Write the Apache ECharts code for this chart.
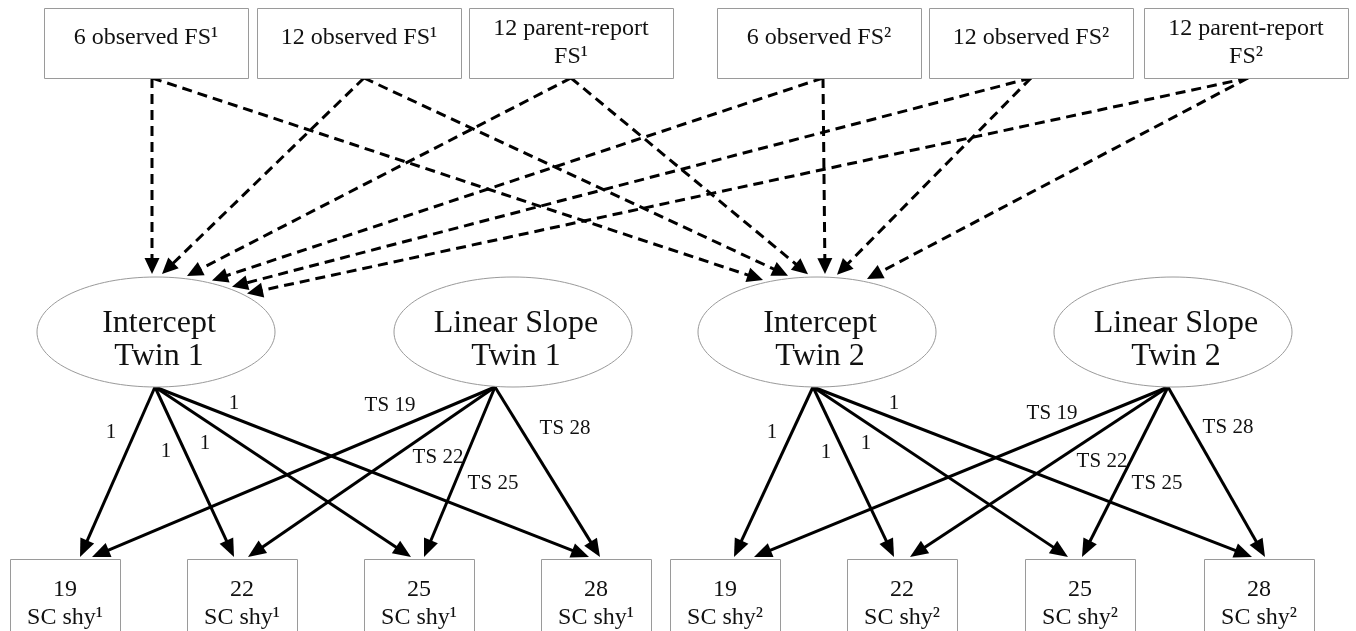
<!DOCTYPE html>
<html><head><meta charset="utf-8">
<script src="https://cdn.jsdelivr.net/npm/echarts@6/dist/echarts.min.js"></script>
<style>html,body{margin:0;padding:0;background:#fff}#c{width:1356px;height:631px}</style>
</head><body><div id="c"></div>
<script>
const FONT = '"Liberation Serif","Times New Roman",serif';

// ---- top row: observed predictors ----
const topLabels = ['6 observed FS¹', '12 observed FS¹', '12 parent-report\nFS¹',
                   '6 observed FS²', '12 observed FS²', '12 parent-report\nFS²'];
const topLeft = [44, 257, 469, 717, 929, 1144];
const topPort = [152, 364, 571, 823, 1031, 1248];

// ---- middle row: latent growth factors ----
const latentLabels = ['Intercept\nTwin 1', 'Linear Slope\nTwin 1', 'Intercept\nTwin 2', 'Linear Slope\nTwin 2'];
const latentCx = [156, 513, 817, 1173];
const latentPort = [155, 495, 813, 1168];

// ---- bottom row: self-concept shyness outcomes ----
const bottomLabels = ['19\nSC shy¹', '22\nSC shy¹', '25\nSC shy¹', '28\nSC shy¹',
                      '19\nSC shy²', '22\nSC shy²', '25\nSC shy²', '28\nSC shy²'];
const bottomLeft = [10, 187, 364, 541, 670, 847, 1025, 1204];

// dashed predictor paths: [top box, latent, landing offset from ellipse centre]
const predictorPaths = [
  [0, 0, -4], [1, 0, 6], [2, 0, 31], [3, 0, 56], [4, 0, 76], [5, 0, 91],
  [0, 2, -54], [1, 2, -29], [2, 2, -9], [3, 2, 8], [4, 2, 20], [5, 2, 50]
];

// solid loadings: [latent, bottom box, landing offset from box centre]
const loadings = [
  [0, 0, 15], [0, 1, -8], [0, 2, -8], [0, 3, -7],
  [1, 0, 27], [1, 1, 6], [1, 2, 5], [1, 3, 4],
  [2, 4, 9], [2, 5, -8], [2, 6, -12], [2, 7, -7],
  [3, 4, 29], [3, 5, 8], [3, 6, 2], [3, 7, 6]
];

// loading labels and where they sit
const loadingText = ['1', '1', '1', '1', 'TS 19', 'TS 22', 'TS 25', 'TS 28',
                     '1', '1', '1', '1', 'TS 19', 'TS 22', 'TS 25', 'TS 28'];
const loadingTextPos = [[111, 432], [166, 451], [205, 443], [234, 403],
                        [390, 405], [438, 457], [493, 483], [565, 428],
                        [772, 432], [826, 452], [866, 443], [894, 403],
                        [1052, 413], [1102, 461], [1157, 483], [1228, 427]];

// layout constants
const TOP_Y = 8, TOP_H = 70, TOP_W = 204;
const LAT_CY = 332, LAT_RX = 119, LAT_RY = 55;
const BOT_Y = 559, BOT_H = 80, BOT_W = 110;

function ellipseTopY(cx, x) {
  const t = Math.min(1, Math.abs(x - cx) / LAT_RX);
  return LAT_CY - LAT_RY * Math.sqrt(1 - t * t) - 3;
}

const dashedData = predictorPaths.map(([f, t, off]) => {
  const ex = latentCx[t] + off;
  return [topPort[f], TOP_Y + TOP_H, ex, ellipseTopY(latentCx[t], ex)];
});
const solidData = loadings.map(([l, b, off]) => {
  return [latentPort[l], LAT_CY + LAT_RY, bottomLeft[b] + BOT_W / 2 + off, BOT_Y - 2];
});

function arrow(api, headLen, headW, lw, dash) {
  const p0 = api.coord([api.value(0), api.value(1)]);
  const p1 = api.coord([api.value(2), api.value(3)]);
  const dx = p1[0] - p0[0], dy = p1[1] - p0[1];
  const L = Math.hypot(dx, dy), ux = dx / L, uy = dy / L;
  const bx = p1[0] - ux * headLen, by = p1[1] - uy * headLen;
  const px = -uy, py = ux;
  return {
    type: 'group',
    children: [
      { type: 'line', shape: { x1: p0[0], y1: p0[1], x2: bx + ux * 2, y2: by + uy * 2 },
        style: { stroke: '#000', lineWidth: lw, lineDash: dash, fill: null } },
      { type: 'polygon', shape: { points: [[p1[0], p1[1]],
          [bx + px * headW / 2, by + py * headW / 2], [bx - px * headW / 2, by - py * headW / 2]] },
        style: { fill: '#000', stroke: null } }
    ]
  };
}

const chart = echarts.init(document.getElementById('c'), null, { renderer: 'canvas' });
chart.setOption({
  animation: false,
  backgroundColor: '#fff',
  grid: { left: 0, right: 0, top: 0, bottom: 0 },
  xAxis: { type: 'value', min: 0, max: 1356, show: false },
  yAxis: { type: 'value', min: 0, max: 631, inverse: true, show: false },
  series: [
    {
      type: 'custom', clip: false, z: 1,
      data: dashedData,
      renderItem: (p, api) => arrow(api, 16, 15, 3, [10, 6])
    },
    {
      type: 'custom', clip: false, z: 1,
      data: solidData,
      renderItem: (p, api) => arrow(api, 18, 15, 3, null)
    },
    {
      type: 'custom', clip: false, z: 2,
      data: topLabels.map((s, i) => [topLeft[i], TOP_Y]),
      renderItem: (p, api) => {
        const a = api.coord([api.value(0), api.value(1)]);
        const lab = topLabels[p.dataIndex];
        const two = lab.indexOf('\n') >= 0;
        return { type: 'group', children: [
          { type: 'rect', shape: { x: Math.round(a[0]) + 0.5, y: Math.round(a[1]) + 0.5, width: TOP_W, height: TOP_H },
            style: { fill: '#fff', stroke: '#9a9a9a', lineWidth: 1 } },
          { type: 'text', style: { text: lab, x: a[0] + TOP_W / 2, y: a[1] + (two ? 35 : 30),
            align: 'center', verticalAlign: 'middle', fontFamily: FONT, fontSize: 24,
            lineHeight: 28, fill: '#111' } }
        ] };
      }
    },
    {
      type: 'custom', clip: false, z: 2,
      data: latentLabels.map((s, i) => [latentCx[i], LAT_CY]),
      renderItem: (p, api) => {
        const a = api.coord([api.value(0), api.value(1)]);
        return { type: 'group', children: [
          { type: 'ellipse', shape: { cx: a[0], cy: a[1], rx: LAT_RX, ry: LAT_RY },
            style: { fill: '#fff', stroke: '#9a9a9a', lineWidth: 1 } },
          { type: 'text', style: { text: latentLabels[p.dataIndex], x: a[0] + 3, y: a[1] + 8,
            align: 'center', verticalAlign: 'middle', fontFamily: FONT, fontSize: 32,
            lineHeight: 33, fill: '#111' } }
        ] };
      }
    },
    {
      type: 'custom', clip: false, z: 2,
      data: bottomLabels.map((s, i) => [bottomLeft[i], BOT_Y]),
      renderItem: (p, api) => {
        const a = api.coord([api.value(0), api.value(1)]);
        return { type: 'group', children: [
          { type: 'rect', shape: { x: Math.round(a[0]) + 0.5, y: Math.round(a[1]) + 0.5, width: BOT_W, height: BOT_H },
            style: { fill: '#fff', stroke: '#9a9a9a', lineWidth: 1 } },
          { type: 'text', style: { text: bottomLabels[p.dataIndex], x: a[0] + BOT_W / 2, y: a[1] + 45,
            align: 'center', verticalAlign: 'middle', fontFamily: FONT, fontSize: 24,
            lineHeight: 28, fill: '#111' } }
        ] };
      }
    },
    {
      type: 'custom', clip: false, z: 3,
      data: loadingTextPos,
      renderItem: (p, api) => {
        const a = api.coord([api.value(0), api.value(1)]);
        return { type: 'text', style: { text: loadingText[p.dataIndex], x: a[0], y: a[1],
          align: 'center', verticalAlign: 'middle', fontFamily: FONT, fontSize: 21, fill: '#111' } };
      }
    }
  ]
});
</script>
</body></html>
